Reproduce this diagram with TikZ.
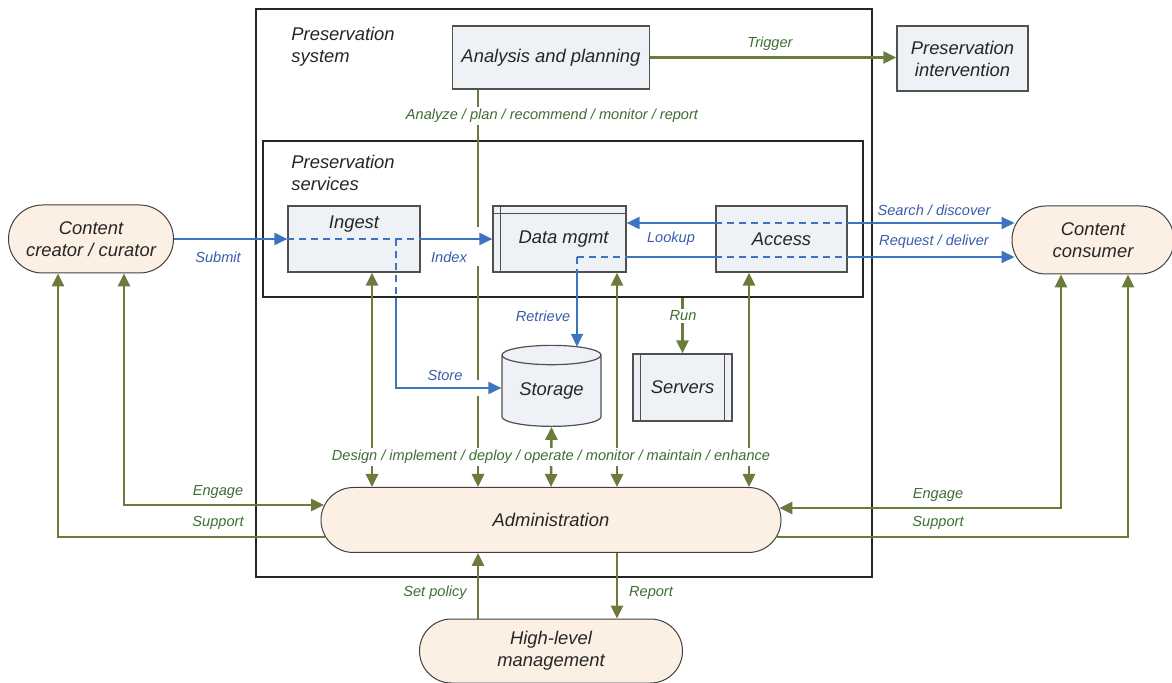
\documentclass[tikz,border=0pt]{standalone}
\usepackage{fontspec}
\setmainfont{Liberation Sans}
\usetikzlibrary{arrows.meta,positioning,shapes.geometric}

\definecolor{boxfill}{HTML}{EEF2F6}
\definecolor{pillfill}{HTML}{FCEFE4}
\definecolor{boxline}{HTML}{505050}
\definecolor{ogreen}{HTML}{6B7B3C}
\definecolor{oblue}{HTML}{3D74C2}
\definecolor{txtgreen}{HTML}{3E6E34}
\definecolor{txtblue}{HTML}{3A5CAC}

\newcommand{\bigsz}{\fontsize{9.2}{11}\selectfont\itshape}
\newcommand{\smallsz}{\fontsize{7.3}{9}\selectfont\itshape}

\tikzset{
  frame/.style={draw=black!85, line width=0.6pt, inner sep=0pt},
  box/.style={draw=boxline, fill=boxfill, line width=0.6pt, font=\bigsz, text=black!85, align=center, inner sep=0pt},
  pill/.style={draw=black!75, fill=pillfill, line width=0.5pt, font=\bigsz, text=black!85, align=center, inner sep=0pt},
  gline/.style={draw=ogreen, line width=1.3pt},
  bline/.style={draw=oblue, line width=1pt},
  bdash/.style={bline, dash pattern=on 3.5pt off 2.5pt},
  glab/.style={text=txtgreen, font=\smallsz, inner sep=1pt},
  blab/.style={text=txtblue, font=\smallsz, inner sep=1pt},
  >={Triangle[length=6.5pt,width=6pt]}
}

\begin{document}
\begin{tikzpicture}[x=0.5pt,y=-0.5pt]
\useasboundingbox (0,0) rectangle (1172,683);

% frames
\node[frame, minimum width=308pt, minimum height=284pt] (sys) at (564,293) {};
\node[frame, minimum width=300pt, minimum height=78pt] (svc) at (563,219) {};
\node[font=\bigsz, text=black!85, align=left, anchor=north west, inner sep=0pt] (systitle) at (291,27) {Preservation\\system};
\node[font=\bigsz, text=black!85, align=left, anchor=north west, inner sep=0pt] (svctitle) at (291,155) {Preservation\\services};

% actors
\node[pill, rounded corners=17pt, minimum width=82.5pt, minimum height=34pt] (creator) at (91,239) {Content\\creator / curator};
\node[pill, rounded corners=17pt, minimum width=81pt, minimum height=34pt] (consumer) at (1093,240) {Content\\consumer};
\node[pill, rounded corners=16.25pt, minimum width=230pt, minimum height=32.5pt] (admin) at (551,520) {Administration};
\node[pill, rounded corners=16pt, minimum width=131.5pt, minimum height=32pt] (mgmt) at (551,651) {High-level\\management};

% boxes
\node[box, minimum width=98.5pt, minimum height=31.5pt] (ana) at (551,57.5) {Analysis and planning};
\node[box, minimum width=65.5pt, minimum height=32.5pt] (interv) at (962.5,58.5) {Preservation\\intervention};
\node[box, minimum width=66pt, minimum height=33pt] (ingest) at (354,239) {};
\node[font=\bigsz, text=black!85] at ([yshift=-9.5pt]ingest.north) {Ingest};
\node[box, minimum width=66.5pt, minimum height=33pt] (dm) at (559.5,239) {\hspace*{4pt}Data mgmt};
\draw[draw=boxline, line width=0.6pt] ([xshift=4pt]dm.north west) -- ([xshift=4pt]dm.south west)
  ([yshift=-4pt]dm.north west) -- ([yshift=-4pt]dm.north east);
\node[box, minimum width=65.5pt, minimum height=33pt] (access) at (781.5,239) {Access};
\node[box, cylinder, shape border rotate=90, shape aspect=0.3, minimum width=49.5pt, minimum height=40.5pt] (storage) at (551.5,391) {Storage};
\node[box, minimum width=49.5pt, minimum height=33.5pt] (servers) at (682.5,387.5) {Servers};
\draw[draw=boxline, line width=0.6pt] ([xshift=4pt]servers.north west) -- ([xshift=4pt]servers.south west)
  ([xshift=-4pt]servers.north east) -- ([xshift=-4pt]servers.south east);

% x positions of the vertical links
\coordinate (xa) at (478,0);
\coordinate (xi) at (372,0);
\coordinate (xd) at (617,0);
\coordinate (xc) at (749,0);
\coordinate (xst) at (396,0);
\coordinate (xr) at (577,0);
\coordinate (xle) at (124,0);
\coordinate (xls) at (58,0);
\coordinate (xre) at (1061,0);
\coordinate (xrs) at (1128,0);
\coordinate (ysr) at (0,223);
\coordinate (yrq) at (0,257);
\coordinate (yst) at (0,388);
\coordinate (yle) at (0,505);
\coordinate (yre) at (0,508);
\coordinate (ysup) at (0,537);

% green links
\draw[gline,->] (ana.east) -- (interv.west |- ana.east);
\draw[gline,->] (ana.south -| xa) -- (478,227) (478,266) -- (478,380) (478,396) -- (admin.north -| xa);
\draw[gline,<->] (admin.north -| xi) -- (ingest.south -| xi);
\draw[gline,<->] (admin.north) -- (storage.south);
\draw[gline,<->] (admin.north -| xd) -- (dm.south -| xd);
\draw[gline,<->] (admin.north -| xc) -- (access.south -| xc);
\draw[gline,->] (servers.north |- svc.south) -- (servers.north);
\draw[gline,<->] (creator.south -| xle) |- ([xshift=1.8pt]admin.west |- yle);
\draw[gline,<-] (creator.south -| xls) |- ([xshift=2.4pt]admin.west |- ysup);
\draw[gline,<->] (consumer.south -| xre) |- ([xshift=-1.1pt]admin.east |- yre);
\draw[gline,<-] (consumer.south -| xrs) |- ([xshift=-2.4pt]admin.east |- ysup);
\draw[gline,->] (mgmt.north -| xa) -- (admin.south -| xa);
\draw[gline,->] (admin.south -| xd) -- (mgmt.north -| xd);

% blue links
\draw[bline,->] (creator.east) -- (ingest.west);
\draw[bdash] (ingest.west) -- (ingest.east);
\draw[bline,->] (ingest.east) -- (dm.west);
\draw[bdash] (xst |- ingest) -- (xst |- svc.south);
\draw[bline,->] (xst |- svc.south) |- (storage.west |- yst);
\draw[bline,->] (access.west |- ysr) -- (dm.east |- ysr);
\draw[bdash] (access.west |- ysr) -- (access.east |- ysr);
\draw[bline,->] (access.east |- ysr) -- ([xshift=1.5pt]consumer.west |- ysr);
\draw[bdash] (xr |- yrq) -- (dm.east |- yrq);
\draw[bline] (dm.east |- yrq) -- (access.west |- yrq);
\draw[bdash] (access.west |- yrq) -- (access.east |- yrq);
\draw[bline,->] (access.east |- yrq) -- ([xshift=1.5pt]consumer.west |- yrq);
\draw[bdash] (xr |- yrq) -- (xr |- dm.south);
\draw[bline,->] (xr |- dm.south) -- ([yshift=-1pt]xr |- storage.north);

% labels
\node[glab] at (770,44) {Trigger};
\node[glab, fill=white] at (552,116) {Analyze / plan / recommend / monitor / report};
\node[glab, fill=white] at (683,316) {Run};
\node[glab, fill=white] at (551,457) {Design / implement / deploy / operate / monitor / maintain / enhance};
\node[glab] at (218,492) {Engage};
\node[glab] at (218,523) {Support};
\node[glab] at (938,495) {Engage};
\node[glab] at (938,523) {Support};
\node[glab] at (435,593) {Set policy};
\node[glab] at (651,593) {Report};
\node[blab] at (218,257) {Submit};
\node[blab] at (449,257) {Index};
\node[blab] at (671,239) {Lookup};
\node[blab] at (934,210) {Search / discover};
\node[blab] at (934,242) {Request / deliver};
\node[blab] at (543,316) {Retrieve};
\node[blab] at (445,375) {Store};
\end{tikzpicture}
\end{document}
